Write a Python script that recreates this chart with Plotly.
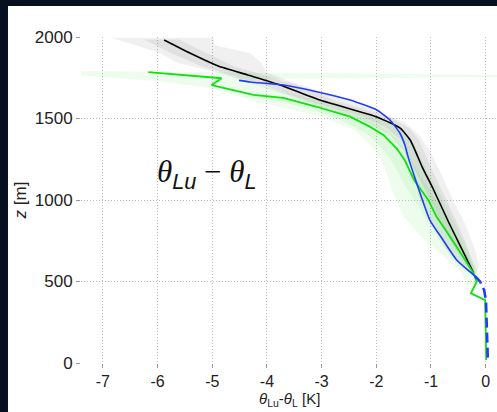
import plotly.graph_objects as go

# ---- data ----
black_z = [1982, 1902, 1822, 1767, 1706, 1613, 1509, 1442, 1368, 1202, 1061, 859, 736, 552]
black_x = [-5.88, -5.41, -4.89, -4.35, -3.76, -3.03, -1.99, -1.57, -1.38, -1.16, -0.95, -0.67, -0.49, -0.22]

green_z = [1785, 1747, 1705, 1645, 1626, 1572, 1511, 1450, 1399, 1317, 1245, 1123, 1000, 898, 775, 652, 550, 499, 427, 386, 18]
green_x = [-6.17, -4.83, -5.01, -4.25, -3.70, -3.09, -2.48, -2.12, -1.87, -1.63, -1.48, -1.31, -1.05, -0.90, -0.65, -0.41, -0.22, -0.165, -0.27, -0.01, 0.01]

blue_z = [1734, 1724, 1705, 1664, 1613, 1552, 1491, 1411, 1340, 1266, 1102, 877, 755, 632, 560, 535]
blue_x = [-4.51, -4.31, -3.70, -3.09, -2.48, -1.99, -1.75, -1.57, -1.48, -1.42, -1.26, -1.02, -0.78, -0.53, -0.29, -0.20]

blue_dash_z = [535, 499, 448, 386, 18]
blue_dash_x = [-0.20, -0.10, -0.03, 0.005, 0.04]

# grey envelope (outer) around black profile
grey_out_z = [1995, 1950, 1900, 1840, 1780, 1720, 1650, 1560, 1480, 1400, 1300, 1150, 1000, 850, 700, 600, 545]
grey_out_left = [-6.85, -6.4, -5.95, -5.64, -4.9, -4.3, -3.7, -2.9, -2.2, -1.75, -1.5, -1.32, -1.2, -0.95, -0.72, -0.42, -0.24]
grey_out_right = [-4.98, -4.95, -4.3, -4.1, -4.0, -3.5, -2.9, -2.1, -1.5, -1.22, -1.02, -0.8, -0.6, -0.37, -0.2, -0.12, -0.18]

# grey envelope (inner)
grey_in_z = [1985, 1900, 1820, 1765, 1705, 1610, 1510, 1440, 1370, 1200, 1060, 860, 735, 560]
grey_in_left = [-6.25, -5.75, -5.2, -4.65, -4.05, -3.3, -2.25, -1.8, -1.55, -1.32, -1.1, -0.82, -0.62, -0.27]
grey_in_right = [-5.6, -5.1, -4.6, -4.05, -3.45, -2.75, -1.75, -1.4, -1.22, -1.0, -0.8, -0.52, -0.36, -0.19]

# green envelope (outer), closed outline
green_env_x = [-7.45, -5.0, -2.0, 0.25, 0.25, -2.0, -4.2,
               -4.3, -3.7, -3.0, -2.4, -1.9, -1.55, -1.3, -1.1, -0.9, -0.7, -0.5, -0.33, -0.18, -0.1, -0.12,
               -0.35, -0.45, -0.8, -1.2, -1.5, -1.7, -1.85, -2.0, -2.4, -3.0, -3.6, -4.15, -5.0, -6.0, -7.05, -7.45]
green_env_z = [1792, 1785, 1775, 1768, 1755, 1750, 1742,
               1720, 1665, 1610, 1555, 1500, 1430, 1330, 1200, 1080, 950, 820, 700, 590, 520, 480,
               480, 560, 660, 780, 900, 1050, 1200, 1300, 1430, 1510, 1560, 1600, 1685, 1730, 1756, 1765]

# green envelope (inner)
green_in_z = [1640, 1600, 1550, 1500, 1450, 1400, 1300, 1200, 1100, 1000, 900, 800, 700, 600, 540]
green_in_left = [-4.5, -3.7, -3.15, -2.7, -2.4, -2.15, -1.85, -1.65, -1.5, -1.3, -1.12, -0.93, -0.74, -0.5, -0.26]
green_in_right = [-4.0, -3.2, -2.7, -2.2, -1.92, -1.7, -1.45, -1.27, -1.1, -0.9, -0.73, -0.55, -0.38, -0.22, -0.17]

x_ticks = [-7, -6, -5, -4, -3, -2, -1, 0]
x_tick_labels = ["-7", "-6", "-5", "-4", "-3", "-2", "-1", "0"]
y_ticks = [0, 500, 1000, 1500, 2000]
y_tick_labels = ["0", "500", "1000", "1500", "2000"]

fig = go.Figure()


def band(zs, left, right, color):
    fig.add_trace(go.Scatter(
        x=list(left) + list(right)[::-1],
        y=list(zs) + list(zs)[::-1],
        fill="toself", fillcolor=color, mode="lines",
        line=dict(width=0), hoverinfo="skip", showlegend=False))


fig.add_trace(go.Scatter(x=green_env_x, y=green_env_z, fill="toself",
                         fillcolor="rgba(60,220,60,0.09)", mode="lines",
                         line=dict(width=0), hoverinfo="skip", showlegend=False))
band(grey_out_z, grey_out_left, grey_out_right, "rgba(0,0,0,0.06)")
band(green_in_z, green_in_left, green_in_right, "rgba(60,220,60,0.09)")
band(grey_in_z, grey_in_left, grey_in_right, "rgba(0,0,0,0.06)")

fig.add_trace(go.Scatter(x=black_x, y=black_z, mode="lines",
                         line=dict(color="#000000", width=1.6, shape="spline", smoothing=0.5),
                         showlegend=False))
fig.add_trace(go.Scatter(x=green_x, y=green_z, mode="lines",
                         line=dict(color="#10e010", width=1.8),
                         showlegend=False))
fig.add_trace(go.Scatter(x=blue_x, y=blue_z, mode="lines",
                         line=dict(color="#1f3cff", width=1.6, shape="spline", smoothing=0.5),
                         showlegend=False))
fig.add_trace(go.Scatter(x=blue_dash_x, y=blue_dash_z, mode="lines",
                         line=dict(color="#1f3cff", width=2.6, dash="10px,5px"),
                         showlegend=False))

fig.add_annotation(x=-5.1, y=1160, xref="x", yref="y", showarrow=False,
                   xanchor="center", yanchor="middle",
                   text="<i>θ</i><sub><span style='font-family:Liberation Sans'><i>Lu</i></span></sub>"
                        " − <i>θ</i><sub><span style='font-family:Liberation Sans'><i>L</i></span></sub>",
                   font=dict(family="Liberation Serif", size=31, color="#111111"))

# x-axis title placed below the tick labels
fig.add_annotation(x=0.5, y=-0.147, xref="paper", yref="paper", showarrow=False,
                   xanchor="center", yanchor="bottom",
                   text="<i>θ</i><sub>Lu</sub>-<i>θ</i><sub>L</sub> [K]",
                   font=dict(family="Liberation Sans", size=15, color="#222222"))

# white panel behind the chart (the page outside is dark)
fig.add_shape(type="rect", xref="paper", yref="paper", layer="below",
              x0=-0.1755, x1=1.05, y0=-0.16, y1=1.095,
              fillcolor="white", line=dict(width=0))

axis_common = dict(showgrid=True, gridcolor="#bdbdbd", griddash="1px,2px", gridwidth=1,
                   zeroline=False, showline=False, ticks="outside", ticklen=4,
                   tickcolor="#999999", tickwidth=1)

fig.update_xaxes(range=[-7.40, 0.207], tickvals=x_ticks, ticktext=x_tick_labels,
                 tickfont=dict(family="Liberation Sans", size=16, color="#222222"),
                 **axis_common)
fig.update_yaxes(range=[0, 2000], tickvals=y_ticks, ticktext=y_tick_labels,
                 tickfont=dict(family="Liberation Sans", size=17, color="#222222"),
                 title=dict(text="<i>z</i> [m]",
                            font=dict(family="Liberation Sans", size=17, color="#222222"),
                            standoff=3),
                 **axis_common)

fig.update_layout(width=497, height=412,
                  margin=dict(l=81, r=0, t=37, b=49),
                  paper_bgcolor="#071020", plot_bgcolor="white",
                  showlegend=False)

fig.write_html("out.html")
